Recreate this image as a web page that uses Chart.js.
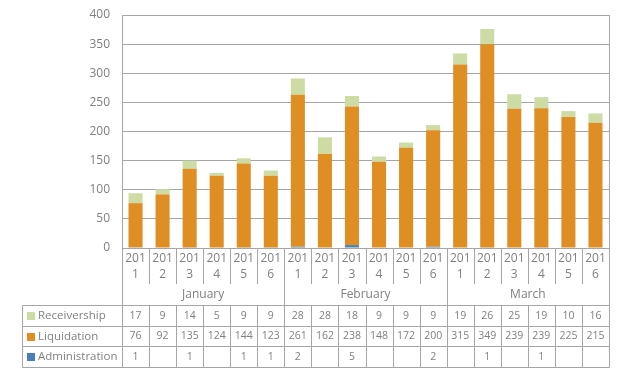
<!DOCTYPE html>
<html>
<head>
<meta charset="utf-8">
<script src="https://cdn.jsdelivr.net/npm/chart.js@4/dist/chart.umd.min.js"></script>
<style>
  html, body { margin: 0; padding: 0; background: #fff; }
  #wrap { width: 624px; height: 374px; }
</style>
</head>
<body>
<div id="wrap"><canvas id="chart" width="624" height="374"></canvas></div>
<script>
// ====== DADOS ======
const months = ["January", "February", "March"];
const years = ["2011", "2012", "2013", "2014", "2015", "2016"];
const receivership = [17, 9, 14, 5, 9, 9, 28, 28, 18, 9, 9, 9, 19, 26, 25, 19, 10, 16];
const liquidation = [76, 92, 135, 124, 144, 123, 261, 162, 238, 148, 172, 200, 315, 349, 239, 239, 225, 215];
const administration = [1, null, 1, null, 1, 1, 2, null, 5, null, null, 2, null, 1, null, 1, null, null];
const yTicks = [0, 50, 100, 150, 200, 250, 300, 350, 400];

// labels "mes ano" para cada coluna
const labels = [];
months.forEach(m => years.forEach(y => labels.push(m + " " + y)));

const textColor = "#808080";
const lineColor = "#a6a6a6";
const font = "'Open Sans', sans-serif";

// linhas da tabela (de cima para baixo)
const tableRows = [
  { name: "Receivership", color: "#cddca5", values: receivership },
  { name: "Liquidation", color: "#de8e22", values: liquidation },
  { name: "Administration", color: "#4a7ebb", values: administration }
];

// ====== PLUGIN DA TABELA / EIXO X ======
const dataTablePlugin = {
  id: "dataTable",
  afterDraw(chart) {
    const ctx = chart.ctx;
    const area = chart.chartArea;
    const x = chart.scales.x;
    const n = labels.length;
    const colW = (area.right - area.left) / n;
    const rowY = [305.5, 326.5, 346.5, 367.5];
    const tableLeft = 22.5;
    const left = Math.round(area.left) + 0.5;
    const right = Math.round(area.right) + 0.5;

    ctx.save();
    ctx.strokeStyle = lineColor;
    ctx.lineWidth = 1;
    ctx.beginPath();
    // bordas verticais
    ctx.moveTo(left, area.top); ctx.lineTo(left, rowY[3]);
    ctx.moveTo(right, area.top); ctx.lineTo(right, rowY[3]);
    ctx.moveTo(tableLeft, rowY[0]); ctx.lineTo(tableLeft, rowY[3]);
    // separadores de categoria
    for (let i = 1; i < n; i++) {
      const xx = Math.round(area.left + i * colW) + 0.5;
      ctx.moveTo(xx, area.bottom);
      ctx.lineTo(xx, i % years.length === 0 ? rowY[3] : 284);
      if (i % years.length !== 0) { ctx.moveTo(xx, rowY[0]); ctx.lineTo(xx, rowY[3]); }
    }
    // linhas horizontais da tabela
    rowY.forEach(y => { ctx.moveTo(tableLeft, y); ctx.lineTo(right, y); });
    ctx.stroke();

    // rótulos das categorias (ano quebrado em duas linhas)
    ctx.fillStyle = textColor;
    ctx.textAlign = "center";
    ctx.textBaseline = "middle";
    ctx.font = "12px " + font;
    labels.forEach((lab, i) => {
      const cx = x.getPixelForValue(i);
      const yr = lab.split(" ")[1];
      ctx.fillText(yr.slice(0, 3), cx, 259);
      ctx.fillText(yr.slice(3), cx, 275);
    });
    // meses
    months.forEach((m, mi) => {
      const cx = area.left + (mi * years.length + years.length / 2) * colW;
      ctx.fillText(m, cx, 295);
    });

    // linhas de dados
    tableRows.forEach((row, ri) => {
      const cy = (rowY[ri] + rowY[ri + 1]) / 2;
      ctx.fillStyle = row.color;
      ctx.fillRect(27, Math.round(cy) - 4, 8, 8);
      ctx.fillStyle = textColor;
      ctx.textAlign = "left";
      ctx.font = "11.5px " + font;
      ctx.fillText(row.name, 38, cy);
      ctx.textAlign = "center";
      ctx.font = "10.5px " + font;
      row.values.forEach((v, i) => {
        if (v !== null) ctx.fillText(String(v), x.getPixelForValue(i), cy);
      });
    });
    ctx.restore();
  }
};

new Chart(document.getElementById("chart"), {
  type: "bar",
  data: {
    labels,
    datasets: [
      { label: "Administration", data: administration, backgroundColor: "#4a7ebb" },
      { label: "Liquidation", data: liquidation, backgroundColor: "#de8e22" },
      { label: "Receivership", data: receivership, backgroundColor: "#cddca5" }
    ]
  },
  options: {
    responsive: false,
    animation: false,
    layout: { padding: { top: 15, right: 15, bottom: 126, left: 0 } },
    datasets: { bar: { barPercentage: 0.52, categoryPercentage: 1 } },
    plugins: { legend: { display: false }, tooltip: { enabled: false } },
    scales: {
      x: { stacked: true, display: false },
      y: {
        stacked: true,
        min: 0,
        max: 400,
        // largura fixa e sem padding extra acima do eixo
        afterFit: s => { s.width = 122; s.paddingTop = 0; s.paddingBottom = 0; },
        afterBuildTicks: s => { s.ticks = yTicks.map(v => ({ value: v })); },
        border: { display: true, color: lineColor },
        grid: { color: lineColor, drawTicks: false },
        ticks: { color: textColor, padding: 12, font: { family: "Open Sans", size: 12 } }
      }
    }
  },
  plugins: [dataTablePlugin]
});
</script>
</body>
</html>
